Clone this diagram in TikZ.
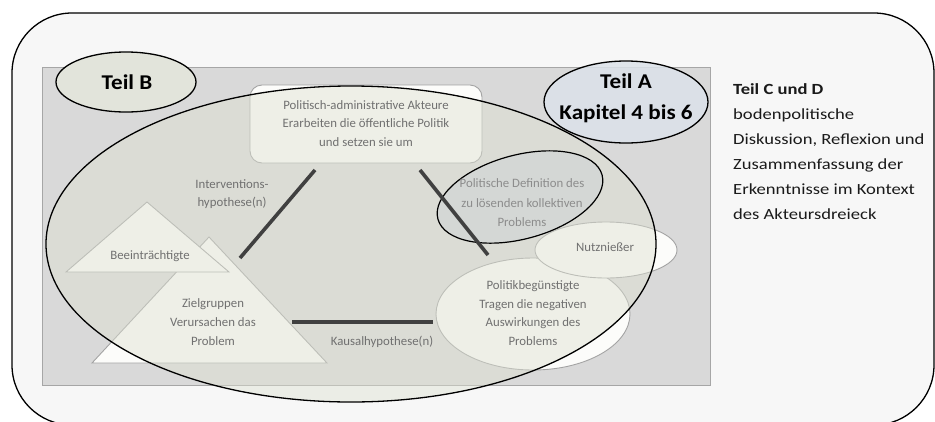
\documentclass[tikz,border=0pt]{standalone}
\usepackage{fontspec}
\setmainfont{Carlito}
\newfontfamily\widefont[FakeStretch=1.2]{Carlito}
\newfontfamily\boldwide[FakeStretch=1.1]{Carlito}
\usetikzlibrary{shapes.geometric}
\definecolor{pagebg}{HTML}{FFFFFF}
\definecolor{framebg}{HTML}{F7F7F7}
\definecolor{panelbg}{HTML}{D9D9D9}
\definecolor{panelline}{HTML}{A6A6A6}
\definecolor{tint}{RGB}{222,225,210}
\definecolor{shapefill}{HTML}{FCFCFA}
\definecolor{shapeline}{HTML}{A3A3A3}
\definecolor{softtext}{HTML}{707070}
\definecolor{paletext}{HTML}{8C8C8C}
\definecolor{teilb}{HTML}{E2E4DB}
\definecolor{teila}{HTML}{DCE2EA}
\definecolor{defblue}{HTML}{C6CDD5}
\definecolor{hyline}{HTML}{404040}
\definecolor{darktext}{HTML}{1A1A1A}
\begin{document}
\begin{tikzpicture}[x=1pt,y=-1pt,
  shapebox/.style={draw=shapeline, fill=shapefill, line width=0.9pt},
  ell/.style={ellipse, inner sep=0pt},
  hypline/.style={draw=hyline, line width=3.6pt},
  smalltxt/.style={font=\fontsize{12.8}{18.7}\selectfont, text=softtext, align=center, inner sep=0pt},
  bigtxt/.style={font=\fontsize{21}{31}\selectfont\boldwide\bfseries, text=black, align=center, inner sep=0pt},
  sidetxt/.style={font=\fontsize{15.5}{25}\selectfont\widefont, text=darktext, align=left, inner sep=0pt},
  blackring/.style={draw=black, line width=1.3pt}]
\useasboundingbox (0,0) rectangle (935,421);
\fill[pagebg] (0,0) rectangle (935,421);
\draw[line width=1.3pt, fill=framebg, rounded corners=60pt] (12,13) rectangle (934,425);
\draw[draw=panelline, fill=panelbg, line width=1pt] (42,67) rectangle (710,385);

% target groups triangles
\draw[shapebox] (209,237) -- (92,363) -- (327,363) -- cycle;
\draw[shapebox] (147,202) -- (66,272) -- (229,272) -- cycle;

% beneficiaries
\node[ell, shapebox, minimum width=194pt, minimum height=112pt] (pb) at (533,314) {};
\node[ell, shapebox, minimum width=142pt, minimum height=56pt] (nutz) at (606,250) {};

% actors box
\node[shapebox, rounded corners=12pt, minimum width=232pt, minimum height=78pt] (admin) at (366,124) {};

% big ellipse tint
\node[ell, fill=tint, fill opacity=0.45, minimum width=610pt, minimum height=316pt] (big) at (351,244) {};

% definition ellipse
\node[ell, draw=black, line width=1.2pt, fill=defblue, fill opacity=0.3, rotate=15, minimum width=170pt, minimum height=84pt] (def) at (520,197) {};

% hypothesis connectors
\coordinate (ia) at (315,170);
\coordinate (ib) at (240,258);
\coordinate (ra) at (420,170);
\coordinate (rb) at (488,255);
\coordinate (ka) at (292,322);
\coordinate (kb) at (433,322);
\draw[hypline] (ia) -- (ib);
\draw[hypline] (ra) -- (rb);
\draw[hypline] (ka) -- (kb);

% big ellipse outline
\node[ell, blackring, minimum width=610pt, minimum height=316pt] (bigring) at (351,244) {};

% Teil B / Teil A
\node[ell, blackring, fill=teilb, minimum width=140pt, minimum height=60pt] (teilb) at (126,82) {};
\node[ell, blackring, fill=teila, fill opacity=0.85, minimum width=164pt, minimum height=82pt] (teila) at (626,102) {};

% texts
\node[bigtxt] (tb) at (127,82) {Teil B};
\node[bigtxt] (ta) at (626,98) {Teil A\\Kapitel 4 bis 6};
\node[smalltxt] (admintxt) at (366,123.5) {Politisch-administrative Akteure\\Erarbeiten die öffentliche Politik\\und setzen sie um};
\node[smalltxt] (itxt) at (232,194) {Interventions-\\hypothese(n)};
\node[smalltxt] (ktxt) at (382,342) {Kausalhypothese(n)};
\node[smalltxt] (btxt) at (150,256) {Beeinträchtigte};
\node[smalltxt] (ztxt) at (213,322) {Zielgruppen\\Verursachen das\\Problem};
\node[smalltxt, text=paletext, font=\fontsize{12.8}{19.5}\selectfont] (dtxt) at (522,203) {Politische Definition des\\zu lösenden kollektiven\\Problems};
\node[smalltxt] (ntxt) at (605,247) {Nutznießer};
\node[smalltxt] (ptxt) at (533,313) {Politikbegünstigte\\Tragen die negativen\\Auswirkungen des\\Problems};
\node[sidetxt, anchor=west] (side) at (733,152) {\textbf{Teil C und D}\\bodenpolitische\\Diskussion, Reflexion und\\Zusammenfassung der\\Erkenntnisse im Kontext\\des Akteursdreieck};
\end{tikzpicture}
\end{document}
